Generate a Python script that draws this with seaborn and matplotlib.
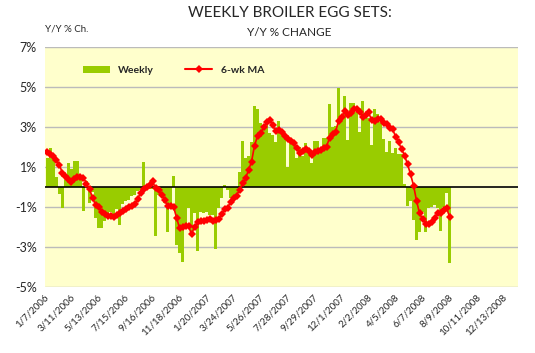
import numpy as np
import pandas as pd
import seaborn as sns
import matplotlib.pyplot as plt
import matplotlib.transforms as mtransforms
from matplotlib.patches import Patch
from matplotlib.lines import Line2D

# weekly Y/Y % change, weeks starting 1/7/2006
weekly = [
    1.45, 1.95, 1.43, 0.52, -0.37, -1.03, 0.35, 1.22, 0.88, 1.30,
    1.30, 0.60, -1.20, 0.30, -0.82, -0.23, -1.53, -2.07, -2.07, -1.68,
    -1.40, -1.23, -1.60, -1.10, -1.92, -0.83, -0.72, -0.63, -0.45, -0.38,
    -0.20, -0.15, 1.25, -0.10, -0.10, -0.10, -2.43, -0.40, -0.45, -0.80,
    -2.27, -0.90, 0.55, -2.90, -3.30, -3.73, -2.10, -1.07, -2.20, -1.30,
    -3.18, -1.23, -1.30, -1.25, -1.40, -1.40, -3.10, -1.07, -0.57, 0.10,
    -0.15, -0.57, -0.65, -0.40, 0.77, 2.30, 1.45, 1.55, 2.27, 4.05,
    3.90, 3.18, 3.00, 3.27, 2.68, 2.60, 2.27, 3.30, 2.80, 2.43,
    1.02, 2.43, 2.27, 1.43, 2.00, 1.55, 2.18, 1.93, 1.22, 2.30,
    2.30, 1.85, 2.43, 2.47, 4.15, 3.00, 3.07, 4.97, 3.60, 4.55,
    2.35, 4.18, 4.20, 3.77, 2.73, 4.30, 3.68, 3.43, 2.10, 3.90,
    3.63, 3.27, 2.40, 1.73, 2.32, 1.68, 1.97, 1.65, 1.63, 0.17,
    -0.93, -0.70, -1.65, -2.65, -2.27, -1.23, -2.27, -1.07, -1.00, -0.90,
    -1.07, -2.20, -1.00, -0.32, -3.78,
]

# 6-week moving average
ma6 = [
    1.77, 1.65, 1.55, 1.33, 1.10, 0.68, 0.57, 0.38, 0.27, 0.38,
    0.52, 0.52, 0.47, 0.17, -0.10, -0.53, -0.90, -0.98, -1.23, -1.37,
    -1.43, -1.43, -1.48, -1.38, -1.32, -1.20, -1.10, -1.00, -0.95, -0.85,
    -0.60, -0.30, -0.12, -0.02, 0.12, 0.30, -0.07, -0.15, -0.40, -0.65,
    -0.95, -0.97, -0.98, -1.53, -2.05, -1.98, -1.93, -1.95, -2.37, -1.98,
    -1.75, -1.68, -1.68, -1.65, -1.62, -1.68, -1.66, -1.62, -1.35, -1.10,
    -1.05, -0.75, -0.55, -0.43, -0.15, 0.18, 0.43, 0.85, 1.27, 2.07,
    2.55, 2.68, 2.98, 3.23, 3.35, 3.10, 2.80, 2.85, 2.73, 2.55,
    2.40, 2.32, 2.18, 1.93, 1.68, 1.80, 1.90, 1.80, 1.60, 1.77,
    1.80, 1.85, 1.95, 2.02, 2.47, 2.63, 2.77, 3.30, 3.50, 3.80,
    3.60, 3.70, 3.90, 3.90, 3.75, 3.52, 3.60, 3.73, 3.35, 3.28,
    3.40, 3.40, 3.20, 3.13, 2.93, 2.90, 2.52, 2.23, 1.90, 1.57,
    1.13, 0.63, 0.07, -0.70, -1.32, -1.60, -1.87, -1.87, -1.73, -1.53,
    -1.28, -1.28, -1.15, -1.07, -1.48,
]

tick_labels = ['1/7/2006', '3/11/2006', '5/13/2006', '7/15/2006', '9/16/2006',
               '11/18/2006', '1/20/2007', '3/24/2007', '5/26/2007', '7/28/2007',
               '9/29/2007', '12/1/2007', '2/2/2008', '4/5/2008', '6/7/2008',
               '8/9/2008', '10/11/2008', '12/13/2008']
y_ticks = [7, 5, 3, 1, -1, -3, -5]

data = pd.DataFrame({'week': np.arange(len(weekly)), 'weekly': weekly, 'ma6': ma6})

sns.set_style('white')
plt.rcParams['font.family'] = ['Lato', 'DejaVu Sans']

fig = plt.figure(figsize=(5.35, 3.53), dpi=100)
ax = fig.add_axes([45 / 535, 1 - 287 / 353, 473 / 535, 240 / 353])
ax.set_facecolor('#FFFFCC')

green = '#99CC00'
sns.barplot(data=data, x='week', y='weekly', color=green, width=1.0,
            saturation=1, linewidth=0, ax=ax, zorder=2)
sns.lineplot(data=data, x='week', y='ma6', color='red', marker='D',
             markersize=4.3, markeredgewidth=0, linewidth=1.2, ax=ax, zorder=4)

ax.set_xlim(-0.83, 156.8)
ax.set_ylim(-5, 7)
ax.set_yticks(y_ticks)
ax.set_yticklabels([f'{t}%' for t in y_ticks], fontsize=9)
for t in y_ticks:
    ax.axhline(t, color='#BBBBBB', linewidth=1, zorder=1)
ax.axhline(0, color='black', linewidth=1.2, zorder=3)

ax.set_xticks(np.arange(0, 9 * len(tick_labels), 9))
ax.set_xticklabels(tick_labels, rotation=45, ha='right', rotation_mode='anchor',
                   fontsize=7)
ax.tick_params(axis='both', length=0, pad=6)
ax.tick_params(axis='x', pad=4)
# nudge the date labels a little to the left, like the original
shift = mtransforms.ScaledTranslation(-4 / 100, 0, fig.dpi_scale_trans)
for lbl in ax.get_xticklabels():
    lbl.set_transform(lbl.get_transform() + shift)
ax.set_xlabel('')
ax.set_ylabel('')
for s in ax.spines.values():
    s.set_visible(False)

handles = [Patch(facecolor=green, edgecolor='none'),
           Line2D([], [], color='red', marker='D', markersize=4, markeredgewidth=0)]
ax.legend(handles, ['Weekly', '6-wk MA'], loc='upper left', ncol=2,
          bbox_to_anchor=(0.06, 0.96), frameon=False, handlelength=2.6,
          handleheight=0.6, columnspacing=3.0, prop={'size': 7.5, 'weight': 'bold'})

fig.text(290 / 535, 1 - 13 / 353, 'WEEKLY BROILER EGG SETS:', ha='center', va='center',
         fontsize=11)
fig.text(289 / 535, 1 - 32 / 353, 'Y/Y % CHANGE', ha='center', va='center', fontsize=8.5)
fig.text(45 / 535, 1 - 29 / 353, 'Y/Y % Ch.', ha='left', va='center', fontsize=7)

fig.savefig('out.png', dpi=100)
